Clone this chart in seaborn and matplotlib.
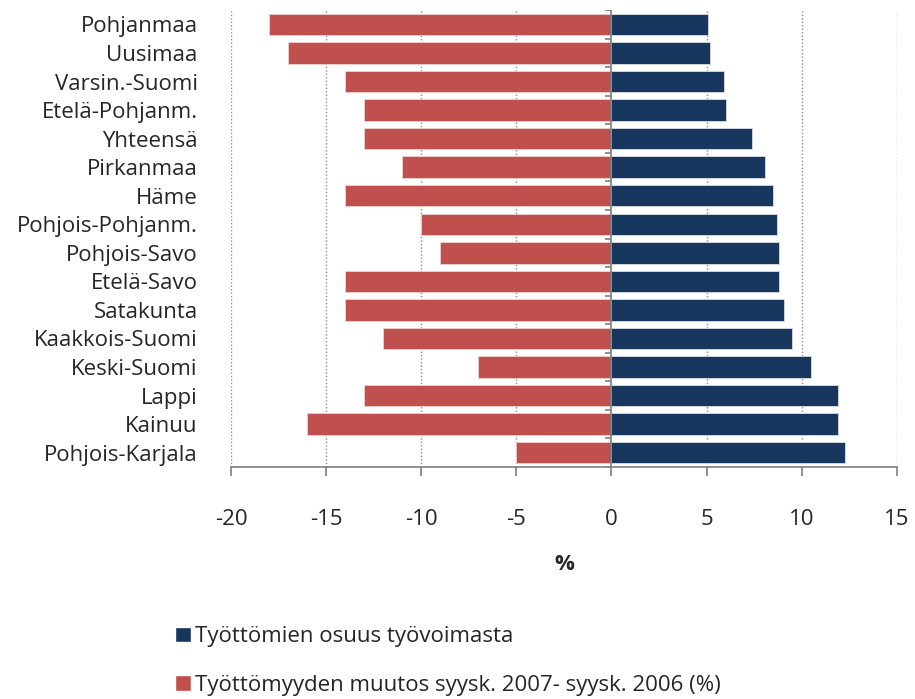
import numpy as np
import pandas as pd
import matplotlib
matplotlib.use('Agg')
import matplotlib.pyplot as plt
import seaborn as sns
from matplotlib.patches import Patch

sns.set_style('white')
plt.rcParams['font.family'] = ['Open Sans', 'DejaVu Sans']
plt.rcParams['axes.unicode_minus'] = False

# 데이터
alueet = ['Pohjanmaa', 'Uusimaa', 'Varsin.-Suomi', 'Etelä-Pohjanm.', 'Yhteensä',
          'Pirkanmaa', 'Häme', 'Pohjois-Pohjanm.', 'Pohjois-Savo', 'Etelä-Savo',
          'Satakunta', 'Kaakkois-Suomi', 'Keski-Suomi', 'Lappi', 'Kainuu',
          'Pohjois-Karjala']
osuus = [5.1, 5.2, 5.9, 6.0, 7.4, 8.1, 8.5, 8.7, 8.8, 8.8, 9.1, 9.5, 10.5, 11.9, 11.9, 12.3]
muutos = [-18, -17, -14, -13, -13, -11, -14, -10, -9, -14, -14, -12, -7, -13, -16, -5]

lbl_osuus = 'Työttömien osuus työvoimasta'
lbl_muutos = 'Työttömyyden muutos syysk. 2007- syysk. 2006 (%)'
sininen = '#17375E'
punainen = '#C0504D'

df = pd.DataFrame({'alue': alueet, 'osuus': osuus, 'muutos': muutos})

fig = plt.figure(figsize=(9.15, 6.99), dpi=100)
ax = fig.add_axes([0.2525, 0.332, 0.7275, 0.6535])

# 그리드
for gx in range(-20, 16, 5):
    if gx != 0:
        ax.axvline(gx, color='#8c8c8c', linestyle=(0, (1, 1.5)), linewidth=1, zorder=0)

sns.barplot(data=df, x='osuus', y='alue', color=sininen, width=0.75, orient='h',
            saturation=1, edgecolor='#d9dce6', linewidth=0.6, ax=ax, zorder=2)
sns.barplot(data=df, x='muutos', y='alue', color=punainen, width=0.75, orient='h',
            saturation=1, edgecolor='#f0d0d0', linewidth=0.6, ax=ax, zorder=2)

n = len(alueet)
ax.set_xlim(-20, 15)
ax.set_ylim(n - 0.5, -0.5)
ax.axvline(0, color='#7f7f7f', linewidth=1.2, zorder=3)
# 작은 눈금 (범주 경계)
ax.hlines(np.arange(n + 1) - 0.5, -0.35, 0, color='#7f7f7f', linewidth=1.2, zorder=3)

ax.set_xticks(range(-20, 16, 5))
ax.tick_params(axis='x', labelsize=16, length=6.5, width=1.2, color='#7f7f7f', pad=24, bottom=True)
ax.tick_params(axis='y', labelsize=16, length=0, pad=24)
for s in ['top', 'right', 'left']:
    ax.spines[s].set_visible(False)
ax.spines['bottom'].set_color('#7f7f7f')
ax.spines['bottom'].set_linewidth(1.2)

ax.set_ylabel('')
ax.set_xlabel('%', fontsize=16, fontweight='bold', labelpad=17)

handles = [Patch(facecolor=sininen), Patch(facecolor=punainen)]
fig.legend(handles, [lbl_osuus, lbl_muutos], loc='upper left',
           bbox_to_anchor=(0.182, 0.117), frameon=False, fontsize=16,
           handlelength=0.7, handleheight=0.7, handletextpad=0.2, labelspacing=1.25,
           borderaxespad=0)

plt.savefig('out.png', dpi=100)
